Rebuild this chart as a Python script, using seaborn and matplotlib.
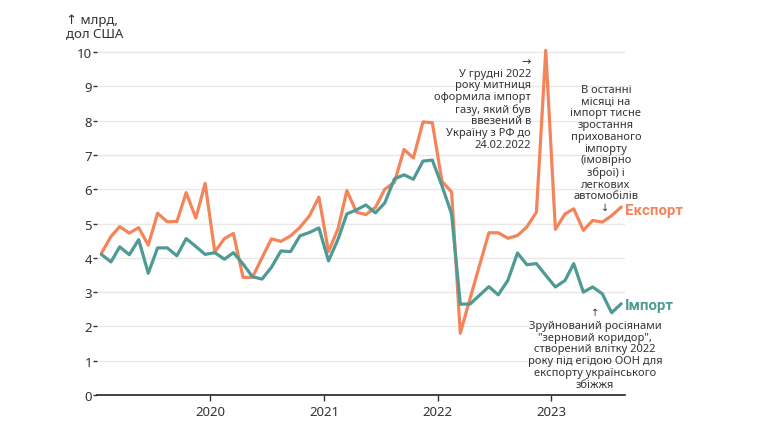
import numpy as np
import pandas as pd
import matplotlib
matplotlib.use("Agg")
import matplotlib.pyplot as plt
import seaborn as sns

# ---- data ----
months = pd.date_range("2019-01-01", "2023-08-01", freq="MS")
export_vals = [
    4.13, 4.62, 4.91, 4.72, 4.88, 4.37, 5.30, 5.05, 5.06, 5.90, 5.16, 6.17,
    4.17, 4.56, 4.71, 3.43, 3.43, 4.00, 4.55, 4.48, 4.64, 4.89, 5.23, 5.77,
    4.18, 4.86, 5.96, 5.33, 5.26, 5.47, 6.00, 6.20, 7.16, 6.91, 7.96, 7.94,
    6.23, 5.92, 1.80, 2.80, 3.75, 4.73, 4.73, 4.57, 4.65, 4.90, 5.33, 10.05,
    4.83, 5.28, 5.43, 4.80, 5.09, 5.04, 5.23, 5.48,
]
import_vals = [
    4.10, 3.88, 4.32, 4.09, 4.53, 3.55, 4.29, 4.29, 4.06, 4.56, 4.33, 4.10,
    4.15, 3.96, 4.15, 3.82, 3.45, 3.38, 3.72, 4.20, 4.18, 4.64, 4.74, 4.87,
    3.91, 4.55, 5.28, 5.40, 5.54, 5.31, 5.60, 6.30, 6.42, 6.29, 6.82, 6.85,
    6.10, 5.28, 2.65, 2.65, 2.90, 3.16, 2.92, 3.34, 4.14, 3.80, 3.83, 3.49,
    3.15, 3.34, 3.83, 3.00, 3.15, 2.95, 2.40, 2.66,
]
series_names = ["Експорт", "Імпорт"]
year_ticks = ["2020", "2021", "2022", "2023"]
y_ticks = [0, 1, 2, 3, 4, 5, 6, 7, 8, 9, 10]
y_title = "↑ млрд,\nдол США"
note_gas = ("→\nУ грудні 2022\nроку митниця\nоформила імпорт\nгазу, який був\n"
            "ввезений в\nУкраїну з РФ до\n24.02.2022")
note_hidden = ("В останні\nмісяці на\nімпорт тисне\nзростання\nприхованого\n"
               "імпорту\n(імовірно\nзброї) і\nлегкових\nавтомобілів")
note_grain = ("Зруйнований росіянами\n\"зерновий коридор\",\nстворений влітку 2022\n"
              "року під егідою ООН для\nекспорту українського\nзбіжжя")
arrow_down = "↓"
arrow_up = "↑"

ORANGE = "#f4845a"
TEAL = "#4f9a94"
TXT = "#333333"

# ---- frame ----
dates = months + pd.Timedelta(days=14)
df = pd.DataFrame({
    "date": list(dates) * 2,
    "value": export_vals + import_vals,
    "series": [series_names[0]] * len(export_vals) + [series_names[1]] * len(import_vals),
})

sns.set_theme(style="white")
plt.rcParams["font.family"] = ["Noto Sans", "DejaVu Sans"]

W, H = 770, 431
fig = plt.figure(figsize=(W / 100, H / 100), dpi=100)
ax = fig.add_axes([97 / W, 35 / H, 528 / W, 346.4 / H])

sns.lineplot(data=df, x="date", y="value", hue="series",
             palette={series_names[0]: ORANGE, series_names[1]: TEAL},
             linewidth=2.3, legend=False, ax=ax, zorder=3)

ax.set_xlim(pd.Timestamp("2019-01-01"), pd.Timestamp("2023-08-27"))
ax.set_ylim(0, 10.1)
ax.set_xlabel("")
ax.set_ylabel("")

ax.set_xticks([pd.Timestamp(f"{y}-01-01") for y in year_ticks])
ax.set_xticklabels(year_ticks)
ax.set_yticks(y_ticks)
ax.set_yticklabels([str(v) for v in y_ticks])

ax.yaxis.grid(True, color="#e8e8e8", linewidth=1.0)
ax.xaxis.grid(False)
for s in ["top", "right", "left"]:
    ax.spines[s].set_visible(False)
ax.spines["bottom"].set_color("#222222")
ax.spines["bottom"].set_linewidth(1.2)

ax.tick_params(axis="y", length=3, width=1, color=TXT, pad=0.5,
               labelsize=9.5, labelcolor=TXT, left=True)
ax.tick_params(axis="x", length=4, width=1, color=TXT, pad=3,
               labelsize=9.5, labelcolor=TXT, bottom=True)


def fp(x, y):
    return (x / W, 1 - y / H)


fig.text(*fp(66, 14), y_title, ha="left", va="top", fontsize=9.5,
         color=TXT, linespacing=1.0)

fig.text(*fp(531, 57), note_gas, ha="right", va="top", fontsize=8,
         color=TXT, linespacing=1.09, multialignment="right")
fig.text(*fp(606, 85), note_hidden, ha="center", va="top", fontsize=8,
         color=TXT, linespacing=1.09, multialignment="center")
fig.text(*fp(605, 204), arrow_down, ha="center", va="top", fontsize=7,
         color=TXT)
fig.text(*fp(595, 318), arrow_up, ha="center", va="bottom", fontsize=7,
         color=TXT)
fig.text(*fp(595, 321), note_grain, ha="center", va="top", fontsize=8,
         color=TXT, linespacing=1.09, multialignment="center")

fig.text(*fp(625, 211), series_names[0], ha="left", va="center",
         fontsize=10.8, fontweight="bold", color=ORANGE,
         family=["Roboto", "DejaVu Sans"])
fig.text(*fp(625, 306), series_names[1], ha="left", va="center",
         fontsize=10.8, fontweight="bold", color=TEAL,
         family=["Roboto", "DejaVu Sans"])

fig.savefig("out.png", dpi=100)
